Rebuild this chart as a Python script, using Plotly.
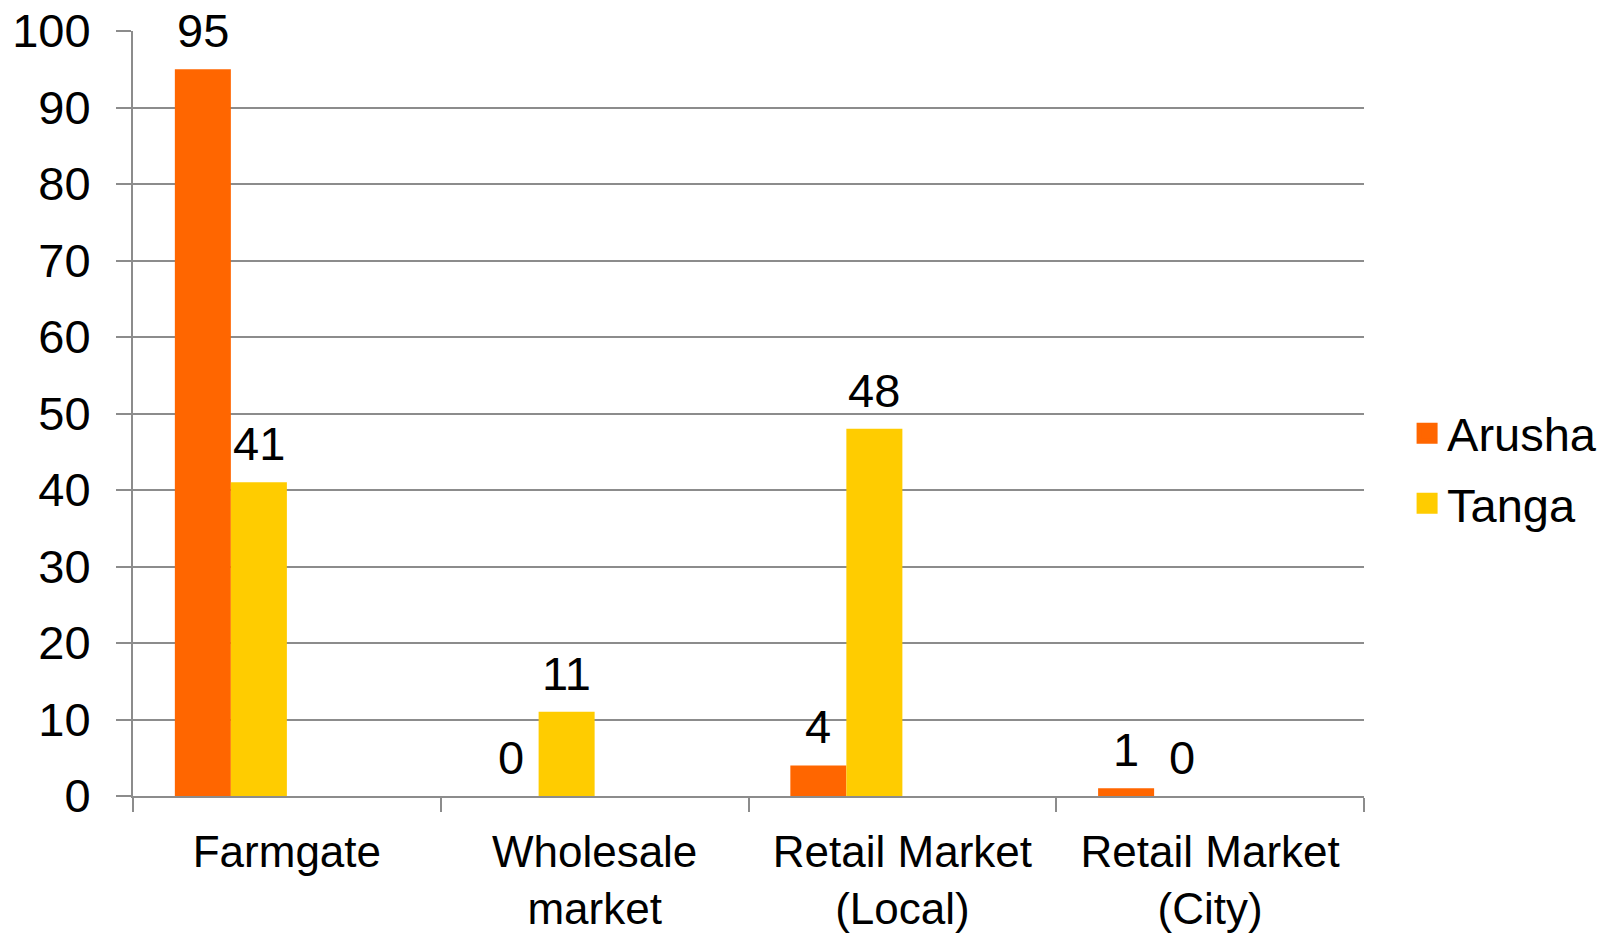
import plotly.graph_objects as go

# Share of sales by market outlet (%)
categories = ["Farmgate", "Wholesale<br>market", "Retail Market<br>(Local)", "Retail Market<br>(City)"]
arusha = [95, 0, 4, 1]
tanga = [41, 11, 48, 0]
y_ticks = [0, 10, 20, 30, 40, 50, 60, 70, 80, 90, 100]

ORANGE = "#FF6600"
YELLOW = "#FFCC00"
GRID = "#8C8C8C"
FONT = "Liberation Sans, Arial, sans-serif"
FS = 47
FS_CAT = 44

L, R, T, B = 133, 246, 31, 139
PLOT_W = 1610 - L - R
CAT_PX = PLOT_W / len(categories)

BAR_W = 0.182  # four slots per category, 150% gap width
series = [
    ("Arusha", arusha, ORANGE, -0.364),
    ("Tanga", tanga, YELLOW, -0.182),
]

fig = go.Figure()
for name, vals, color, off in series:
    fig.add_trace(go.Bar(
        x=categories, y=vals, name=name, legendgroup=name, showlegend=False,
        marker=dict(color=color, line=dict(width=0)),
        width=BAR_W, offset=off,
    ))
    # legend swatch
    fig.add_trace(go.Scatter(
        x=[None], y=[None], mode="markers", name=name, legendgroup=name,
        marker=dict(symbol="square", size=16, color=color,
                    line=dict(color=color, width=5)),
    ))
    # value labels above each bar
    centre_px = (off + BAR_W / 2) * CAT_PX
    for cat, v in zip(categories, vals):
        fig.add_annotation(
            x=cat, y=v, text=str(v), showarrow=False,
            xanchor="center", yanchor="bottom",
            xshift=centre_px, yshift=10,
            font=dict(family=FONT, size=FS, color="#000000"),
        )

fig.update_layout(
    width=1610, height=935,
    margin=dict(l=L, r=R, t=T, b=B, autoexpand=False),
    paper_bgcolor="white", plot_bgcolor="white",
    font=dict(family=FONT, size=FS, color="#000000"),
    barmode="overlay",
    legend=dict(
        x=1.035, y=0.428, xanchor="left", yanchor="middle",
        font=dict(family=FONT, size=FS, color="#000000"),
        itemsizing="trace", tracegroupgap=6,
        bgcolor="rgba(0,0,0,0)",
    ),
)

fig.update_xaxes(
    type="category", tickson="boundaries",
    ticks="outside", ticklen=14, tickwidth=2, tickcolor=GRID,
    showline=True, linecolor=GRID, linewidth=2,
    showgrid=False, zeroline=False,
    tickfont=dict(family=FONT, size=FS_CAT, color="#000000"),
    ticklabelstandoff=16,
)
fig.update_yaxes(
    range=[0, 100], tickvals=y_ticks,
    ticks="outside", ticklen=15, tickwidth=2, tickcolor=GRID,
    showline=True, linecolor=GRID, linewidth=2,
    showgrid=True, gridcolor=GRID, gridwidth=2, zeroline=False,
    tickfont=dict(family=FONT, size=FS, color="#000000"),
    ticklabelstandoff=16,
)

fig.write_html("out.html")
